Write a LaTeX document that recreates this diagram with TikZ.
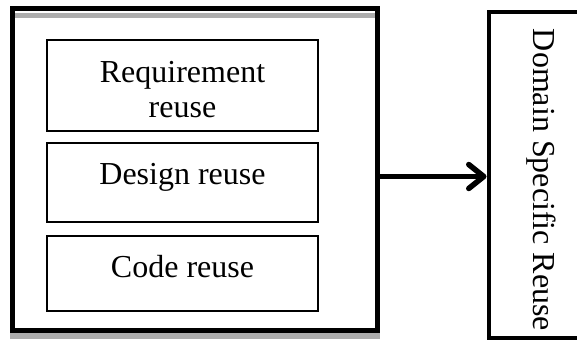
\documentclass[tikz,border=0pt]{standalone}
\usepackage{fontspec}
\setmainfont{Liberation Serif}
\usetikzlibrary{arrows.meta}
\begin{document}
\begin{tikzpicture}[x=1pt,y=-1pt,
  outerframe/.style={draw=black,line width=5pt,minimum width=365pt,minimum height=322pt,inner sep=0pt},
  innerbox/.style={draw=black,line width=1.3pt,minimum width=271pt,inner sep=0pt},
  sidebox/.style={draw=black,line width=4pt,minimum width=112pt,minimum height=326pt,inner sep=0pt},
  lbl/.style={font=\fontsize{32}{35}\selectfont,inner sep=0pt,anchor=base},
  shade/.style={fill=black!32,draw=none},
  conn/.style={line width=5.5pt,-{Straight Barb[length=15pt,width=24pt,line cap=round,line join=round]}}]
  \useasboundingbox (0,0) rectangle (577,340);

  % outer frame with its grey edges
  \fill[shade] (15,12.5) rectangle (375,17.5);
  \fill[shade] (10,333) rectangle (380,339);
  \node[outerframe] (outer) at (195,169.5) {};

  % the three reuse levels
  \node[innerbox,minimum height=91pt] (req) at (182.5,85.5) {};
  \node[innerbox,minimum height=79pt] (des) at (182.5,182.5) {};
  \node[innerbox,minimum height=75pt] (cod) at (182.5,273.5) {};
  \node[lbl] at (182.5,82) {Requirement};
  \node[lbl] at (182.5,117) {reuse};
  \node[lbl] at (182.5,184) {Design reuse};
  \node[lbl] at (182.5,277) {Code reuse};

  % domain specific reuse box, running past the right edge
  \node[sidebox] (dsr) at (544.5,174.5) {};
  \node[lbl,rotate=-90] at (533,180) {Domain Specific Reuse};

  % connector
  \coordinate (ay) at (0,176.5);
  \draw[conn] (outer.east |- ay) -- (dsr.west |- ay);
\end{tikzpicture}
\end{document}
